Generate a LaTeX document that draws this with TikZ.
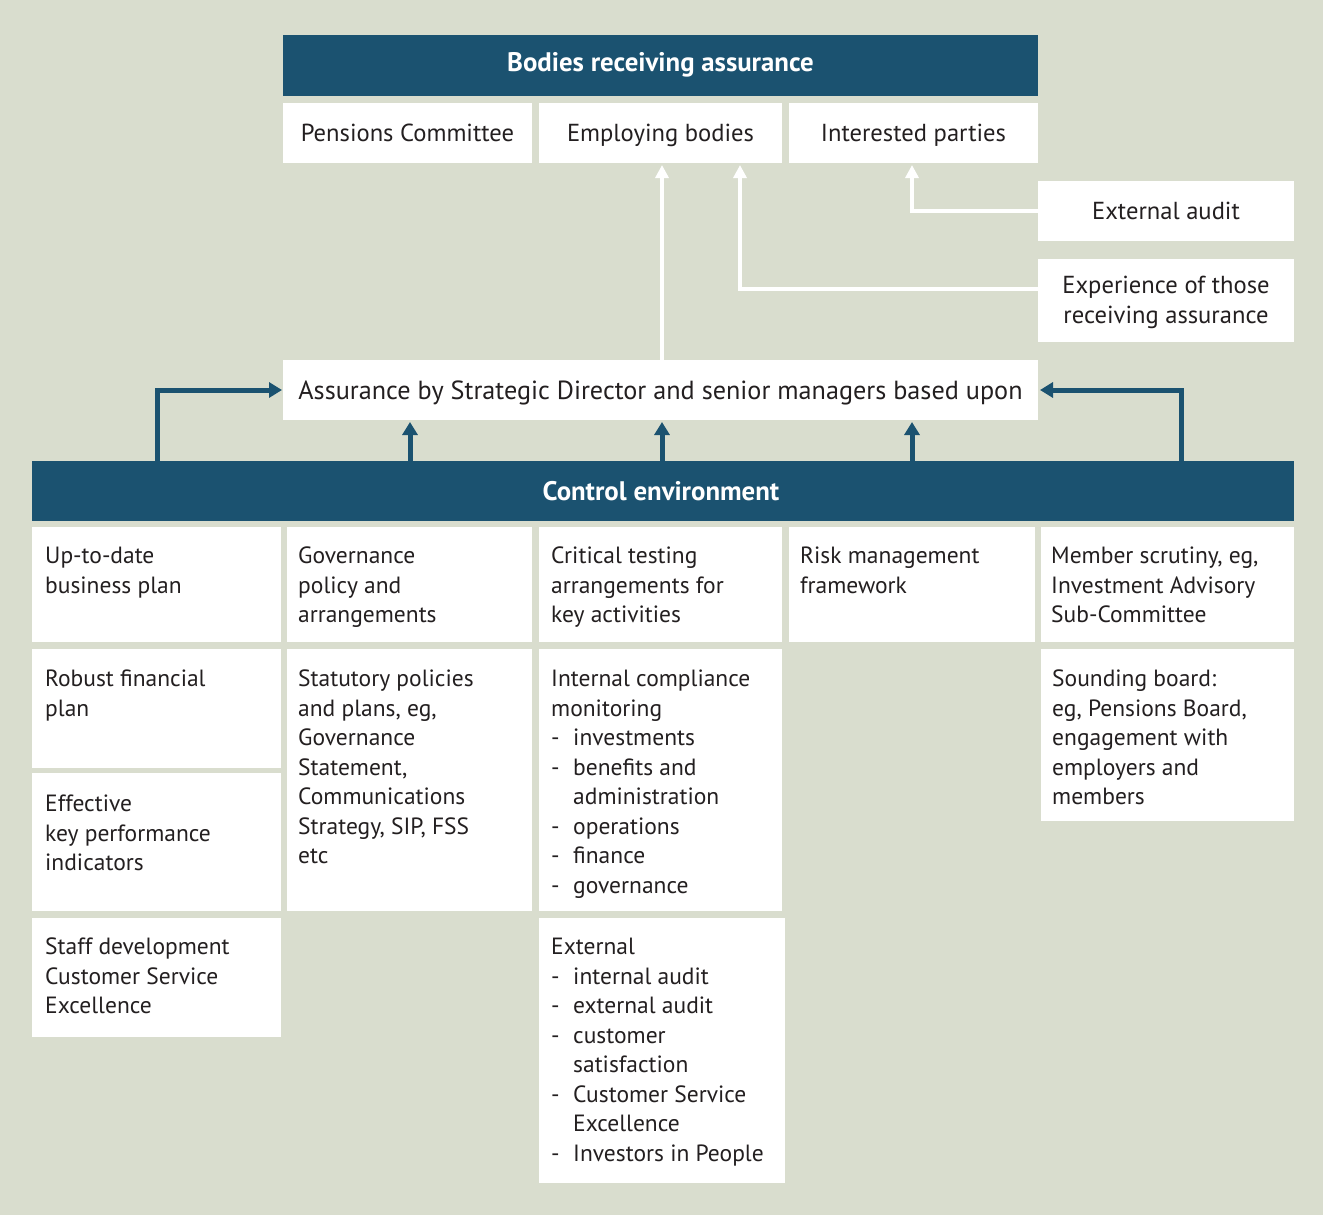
\documentclass[tikz,border=0pt]{standalone}
\usepackage{fontspec}
\setmainfont{PT Sans}
\usetikzlibrary{arrows.meta}
\definecolor{bg}{RGB}{217,221,206}
\definecolor{navy}{RGB}{27,82,112}
\definecolor{ink}{RGB}{35,31,32}
\newcommand\itm[1]{\makebox[22pt][l]{-}#1}
\newcommand\cnt[1]{\hspace*{22pt}#1}
\begin{document}
\begin{tikzpicture}[x=1pt,y=-1pt,
  cell/.style={fill=white, draw=none, anchor=north west, inner sep=0, outer sep=0},
  headbox/.style={fill=navy, draw=none, anchor=north west, inner sep=0, outer sep=0},
  headtxt/.style={text=white, inner sep=0, anchor=base, font=\fontsize{26.8}{32}\selectfont\bfseries},
  txt/.style={anchor=north west, inner sep=0, align=left, text=ink, font=\fontsize{23.5}{29.5}\selectfont},
  ctxt/.style={inner sep=0, align=center, text=ink, anchor=base, font=\fontsize{24.6}{29.5}\selectfont},
  warrow/.style={draw=white, line width=4pt, -{Triangle[width=13pt,length=13pt]}},
  barrow/.style={draw=navy, line width=5pt, -{Triangle[width=15pt,length=13pt]}}
]
\fill[bg] (0,0) rectangle (1323,1215);
\useasboundingbox (0,0) rectangle (1323,1215);

% top block
\node[headbox, minimum width=755pt, minimum height=61pt] (hb) at (283,35) {};
\node[headtxt] (hbt) at (660.5,71) {Bodies receiving assurance};
\node[cell, minimum width=249pt, minimum height=60pt] (pc) at (283,103) {};
\node[ctxt] (pct) at (407.5,141) {Pensions Committee};
\node[cell, minimum width=243pt, minimum height=60pt] (eb) at (539,103) {};
\node[ctxt] (ebt) at (660.5,141) {Employing bodies};
\node[cell, minimum width=249pt, minimum height=60pt] (ip) at (789,103) {};
\node[ctxt] (ipt) at (913.5,141) {Interested parties};

\node[cell, minimum width=256pt, minimum height=60pt] (ea) at (1038,181) {};
\node[ctxt] (eat) at (1166,219) {External audit};
\node[cell, minimum width=256pt, minimum height=83pt] (ex) at (1038,259) {};
\node[ctxt, anchor=north] (ext) at (1166,276) {Experience of those\\receiving assurance};

\node[cell, minimum width=755pt, minimum height=60pt] (as) at (283,360) {};
\node[ctxt, font=\fontsize{26.2}{30}\selectfont] (ast) at (660.5,399) {Assurance by Strategic Director and senior managers based upon};

% control environment
\node[headbox, minimum width=1262pt, minimum height=60pt] (ce) at (32,461) {};
\node[headtxt] (cet) at (661,500) {Control environment};

\node[cell, minimum width=249pt, minimum height=115pt] (c11) at (32,527) {};
\node[cell, minimum width=245pt, minimum height=115pt] (c21) at (287,527) {};
\node[cell, minimum width=243pt, minimum height=115pt] (c31) at (539,527) {};
\node[cell, minimum width=246pt, minimum height=115pt] (c41) at (789,527) {};
\node[cell, minimum width=253pt, minimum height=115pt] (c51) at (1041,527) {};
\node[cell, minimum width=249pt, minimum height=119pt] (c12) at (32,649) {};
\node[cell, minimum width=249pt, minimum height=138pt] (c13) at (32,773) {};
\node[cell, minimum width=249pt, minimum height=119pt] (c14) at (32,918) {};
\node[cell, minimum width=245pt, minimum height=262pt] (c22) at (287,649) {};
\node[cell, minimum width=243pt, minimum height=262pt] (c32) at (539,649) {};
\node[cell, minimum width=246pt, minimum height=265pt] (c33) at (539,918) {};
\node[cell, minimum width=253pt, minimum height=172pt] (c52) at (1041,649) {};

\node[txt] (t11) at (45,547) {Up-to-date\\business plan};
\node[txt] (t21) at (298,547) {Governance\\policy and\\arrangements};
\node[txt] (t31) at (551,547) {Critical testing\\arrangements for\\key activities};
\node[txt] (t41) at (800,547) {Risk management\\framework};
\node[txt] (t51) at (1051,547) {Member scrutiny, eg,\\Investment Advisory\\Sub-Committee};
\node[txt] (t12) at (45,670) {Robust financial\\plan};
\node[txt] (t13) at (45,795) {Effective\\key performance\\indicators};
\node[txt] (t14) at (45,938) {Staff development\\Customer Service\\Excellence};
\node[txt] (t22) at (298,670) {Statutory policies\\and plans, eg,\\Governance\\Statement,\\Communications\\Strategy, SIP, FSS\\etc};
\node[txt] (t32) at (551,670) {Internal compliance\\monitoring\\\itm{investments}\\\itm{benefits and}\\\cnt{administration}\\\itm{operations}\\\itm{finance}\\\itm{governance}};
\node[txt] (t33) at (551,938) {External\\\itm{internal audit}\\\itm{external audit}\\\itm{customer}\\\cnt{satisfaction}\\\itm{Customer Service}\\\cnt{Excellence}\\\itm{Investors in People}};
\node[txt] (t52) at (1052,670) {Sounding board:\\eg, Pensions Board,\\engagement with\\employers and\\members};

% white arrows
\coordinate (ebtarget) at (740,165);
\draw[warrow] (as.north -| 662,0) -- (662,165);
\draw[warrow] ([yshift=11.5pt]ex.west) -| (ebtarget);
\draw[warrow] (ea.west) -| ([yshift=-2pt]ip.south -| 912,0);

% navy arrows
\draw[barrow] (ce.north -| 157,0) |- ([xshift=-1pt]as.west);
\draw[barrow] (ce.north -| 1181,0) |- ([xshift=2pt]as.east);
\draw[barrow] (ce.north -| 410,0) -- ([yshift=-2pt]as.south -| 410,0);
\draw[barrow] (ce.north -| 662,0) -- ([yshift=-2pt]as.south -| 662,0);
\draw[barrow] (ce.north -| 912,0) -- ([yshift=-2pt]as.south -| 912,0);
\end{tikzpicture}
\end{document}
